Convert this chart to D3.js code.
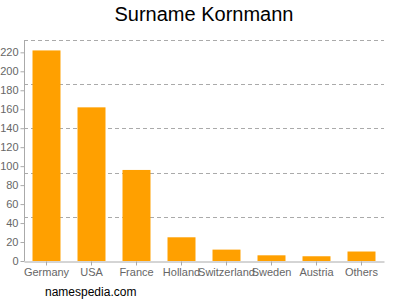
<!DOCTYPE html>
<html>
<head>
<meta charset="utf-8">
<script src="https://cdn.jsdelivr.net/npm/d3@7"></script>
<style>
body { margin: 0; background: #fff; }
text { font-family: "Liberation Sans", Arial, sans-serif; }
</style>
</head>
<body>
<div id="chart"></div>
<script>
var countries = ["Germany", "USA", "France", "Holland", "Switzerland", "Sweden", "Austria", "Others"];
var counts = [222, 162, 96, 25, 12, 6, 5, 10];
var yTicks = [0, 20, 40, 60, 80, 100, 120, 140, 160, 180, 200, 220];

var width = 400,
	height = 300,
	plotLeft = 24, plotRight = 384,
	plotTop = 40, plotBottom = 261;

var svg = d3.select("#chart").append("svg")
	.attr("width", width)
	.attr("height", height);

var x = d3.scaleBand()
	.domain(countries)
	.range([plotLeft, plotRight])
	.paddingInner(0.378)
	.paddingOuter(0.189);

var y = d3.scaleLinear()
	.domain([0, 233])
	.range([plotBottom, plotTop]);

// dashed grid lines, 5 equal divisions of the plot height
var grid = d3.range(5).map(function(i) { return plotTop + i * (plotBottom - plotTop) / 5; });
svg.selectAll(".grid")
	.data(grid)
	.enter().append("line")
	.attr("x1", plotLeft).attr("x2", plotRight)
	.attr("y1", function(d) { return Math.round(d) + 0.5; })
	.attr("y2", function(d) { return Math.round(d) + 0.5; })
	.style("stroke", "#aaa")
	.style("stroke-dasharray", "4,3");

svg.selectAll(".bar")
	.data(counts)
	.enter().append("rect")
	.attr("x", function(d, i) { return x(countries[i]); })
	.attr("width", x.bandwidth())
	.attr("y", function(d) { return y(d); })
	.attr("height", function(d) { return plotBottom - y(d); })
	.style("fill", "#ffa000");

var yAxis = svg.append("g")
	.attr("transform", "translate(" + (plotLeft + 0.5) + ",0)")
	.call(d3.axisLeft(y).tickValues(yTicks).tickSize(4).tickPadding(2));

var xAxis = svg.append("g")
	.attr("transform", "translate(0," + (plotBottom + 0.5) + ")")
	.call(d3.axisBottom(x).tickSize(4).tickSizeOuter(0).tickPadding(3));

[yAxis, xAxis].forEach(function(a) {
	a.select(".domain").style("stroke", "#aaa");
	a.selectAll(".tick line").style("stroke", "#aaa");
	a.selectAll(".tick text").style("fill", "#666").style("font-size", "11px");
});
// y axis line reaches up to the top grid line
yAxis.select(".domain").attr("d", "M0," + plotTop + "V" + plotBottom);

svg.append("text")
	.attr("x", 204)
	.attr("y", 21)
	.attr("text-anchor", "middle")
	.style("font-size", "20px")
	.style("fill", "#000")
	.text("Surname Kornmann");

svg.append("text")
	.attr("x", 45)
	.attr("y", 296)
	.style("font-size", "12px")
	.style("fill", "#000")
	.text("namespedia.com");
</script>
</body>
</html>
